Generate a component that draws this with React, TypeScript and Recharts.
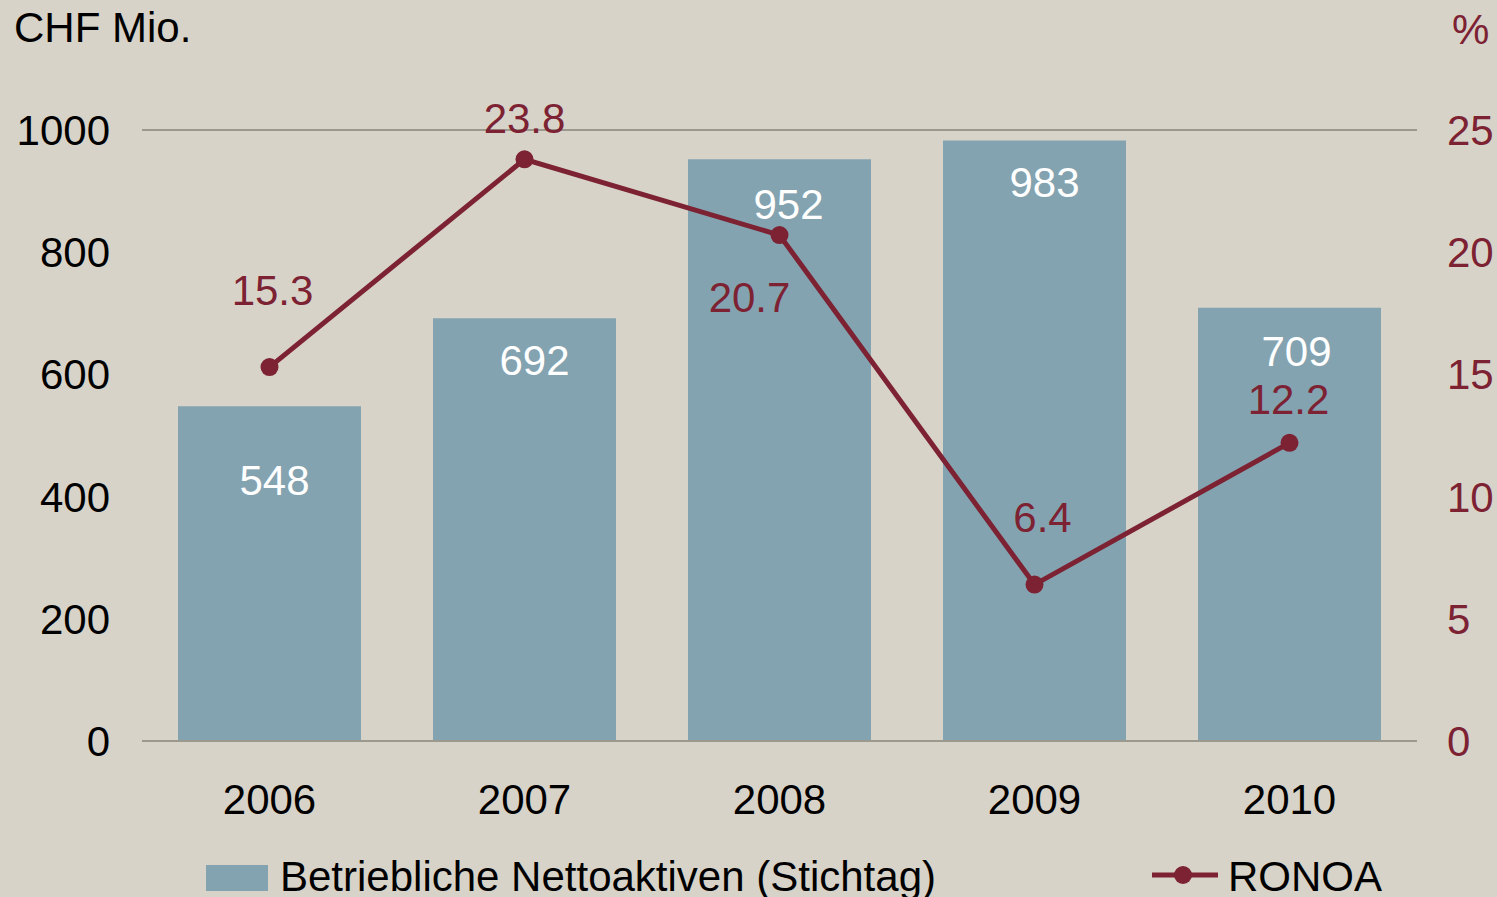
import React from 'react';
import { ComposedChart, Bar, Line, XAxis, YAxis, CartesianGrid, LabelList, Legend } from 'recharts';

const years = ['2006', '2007', '2008', '2009', '2010'];
const nettoaktiven = [548, 692, 952, 983, 709];
const ronoa = [15.3, 23.8, 20.7, 6.4, 12.2];
const leftTicks = [0, 200, 400, 600, 800, 1000];
const rightTicks = [0, 5, 10, 15, 20, 25];

const BG = '#d8d3c9';
const BAR = '#84a3b0';
const RED = '#7c2232';
const GRID = '#9b998d';
const FONT = '"Liberation Sans", Arial, sans-serif';
const FS = 42;

// label offsets (px) for bar and line labels
const barLabelDx = [5, 10, 9, 10, 7];
const barLabelDy = [74, 42, 45, 42, 44];
const lineLabelDx = [3, 0, -30, 8, -1];
const lineLabelDy = [-77, -41, 62, -67, -43];

const data = years.map((year, i) => ({ year, value: nettoaktiven[i], ronoa: ronoa[i] }));

const BarLabel = (props: any) => {
  const { x, y, width, index, value } = props;
  return (
    <text x={x + width / 2 + barLabelDx[index]} y={y + barLabelDy[index]} textAnchor="middle"
      dominantBaseline="central" fill="#ffffff" fontSize={FS} fontFamily={FONT}>{value}</text>
  );
};

const LineLabel = (props: any) => {
  const { x, y, index, value } = props;
  return (
    <text x={x + lineLabelDx[index]} y={y + lineLabelDy[index]} textAnchor="middle" dominantBaseline="central"
      fill={RED} fontSize={FS} fontFamily={FONT}>{value.toFixed(1)}</text>
  );
};

const LegendContent = () => (
  <div style={{ position: 'relative', width: 1497, height: 60, fontFamily: FONT, fontSize: FS, color: '#000' }}>
    <div style={{ position: 'absolute', left: 206, top: 28, width: 62, height: 26, background: BAR }} />
    <span style={{ position: 'absolute', left: 280, top: 16, lineHeight: '48px', whiteSpace: 'nowrap' }}>Betriebliche Nettoaktiven (Stichtag)</span>
    <svg style={{ position: 'absolute', left: 1150, top: 23 }} width={70} height={30}>
      <line x1={2} y1={15} x2={68} y2={15} stroke={RED} strokeWidth={5} />
      <circle cx={33} cy={15} r={9} fill={RED} />
    </svg>
    <span style={{ position: 'absolute', left: 1228, top: 16, lineHeight: '48px' }}>RONOA</span>
  </div>
);

export default function App() {
  const tickStyle = { fontSize: FS, fontFamily: FONT };
  return (
    <div style={{ position: 'fixed', left: 0, top: 0, width: 1497, height: 897, background: BG, overflow: 'hidden' }}>
      <div style={{ position: 'absolute', left: 14, top: 4, fontFamily: FONT, fontSize: FS, color: '#000' }}>CHF Mio.</div>
      <div style={{ position: 'absolute', left: 1452, top: 6, fontFamily: FONT, fontSize: FS, color: RED }}>%</div>
      <ComposedChart width={1497} height={897} data={data}
        margin={{ top: 130, right: 0, left: 0, bottom: 66 }} barCategoryGap={36}>
        <CartesianGrid vertical={false} stroke={GRID} strokeWidth={2} />
        <XAxis dataKey="year" height={30} axisLine={{ stroke: GRID, strokeWidth: 2 }} tickLine={false} tickSize={0}
          tickMargin={43} tick={{ ...tickStyle, fill: '#000' }} interval={0} />
        <YAxis yAxisId="left" domain={[0, 1000]} ticks={leftTicks} width={142} axisLine={false} tickLine={false}
          tickSize={0} tickMargin={32} tick={{ ...tickStyle, fill: '#000' }} />
        <YAxis yAxisId="right" orientation="right" domain={[0, 25]} ticks={rightTicks} width={80} axisLine={false}
          tickLine={false} tickSize={0} tickMargin={30} tick={{ ...tickStyle, fill: RED, textAnchor: 'start' }} />
        <Bar yAxisId="left" dataKey="value" fill={BAR} isAnimationActive={false}>
          <LabelList dataKey="value" content={BarLabel} />
        </Bar>
        <Line yAxisId="right" dataKey="ronoa" stroke={RED} strokeWidth={5} isAnimationActive={false}
          dot={{ r: 9, fill: RED, stroke: RED, strokeWidth: 0 }} activeDot={false}>
          <LabelList dataKey="ronoa" content={LineLabel} />
        </Line>
        <Legend verticalAlign="bottom" height={60} content={LegendContent}
          wrapperStyle={{ left: 0, bottom: 0, top: 837, width: 1497, height: 60 }} />
      </ComposedChart>
    </div>
  );
}
